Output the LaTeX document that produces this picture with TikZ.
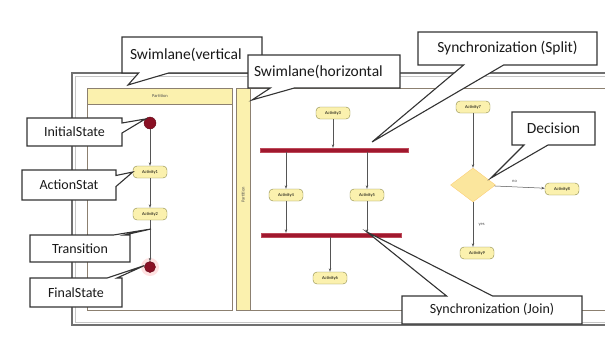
\documentclass[tikz,border=0pt]{standalone}
\usepackage{fontspec}
\setmainfont{Carlito}
\usetikzlibrary{shapes.callouts,shapes.geometric,arrows.meta}
\definecolor{frameC}{HTML}{707070}
\definecolor{laneC}{HTML}{8C8070}
\definecolor{yel}{HTML}{FBF1AE}
\definecolor{actB}{HTML}{8A8848}
\definecolor{barC}{HTML}{A0182E}
\definecolor{stateC}{HTML}{8A1024}
\definecolor{lineC}{HTML}{555555}
\begin{document}
\begin{tikzpicture}[x=1pt,y=-1pt,
  frameline/.style={draw=frameC,line width=1.6pt},
  frameinner/.style={draw=gray!45,line width=0.6pt},
  laneline/.style={draw=laneC,line width=0.8pt},
  lanehead/.style={draw=laneC,line width=0.8pt,fill=yel},
  act/.style={draw=actB,fill=yel,rounded corners=4pt,minimum width=34pt,minimum height=12pt,inner sep=1pt,font=\fontsize{4.5}{5}\selectfont},
  bar/.style={fill=barC,draw=barC!70!pink,line width=0.4pt,minimum height=4pt,inner sep=0pt},
  arr/.style={draw=lineC,line width=0.5pt,-{Stealth[length=3.5pt,width=2.5pt]}},
  tiny/.style={font=\fontsize{4.5}{5}\selectfont,text=gray!60!black},
  callbox/.style={rectangle callout,draw=gray!40!black,line width=1.1pt,fill=white,font=\fontsize{14}{16}\selectfont,text=gray!20!black,inner sep=0pt},
  bigtext/.style={font=\fontsize{15.5}{17}\selectfont},
]
\useasboundingbox (0,0) rectangle (605,338);
% outer frame
\draw[frameline] (610,73) -- (72,73) -- (72,325) -- (610,325);
\draw[frameinner] (610,76) -- (75,76) -- (75,322) -- (610,322);
% vertical swimlane
\draw[laneline] (87,88) rectangle (232,310);
\node[lanehead,minimum width=145pt,minimum height=16pt,inner sep=0pt,anchor=north west] (vhead) at (87,88) {};
\node[tiny] (vlab) at (vhead) {Partition};
% horizontal swimlane
\draw[laneline] (612,88) -- (236,88) -- (236,310) -- (612,310);
\node[lanehead,minimum width=14pt,minimum height=222pt,inner sep=0pt,anchor=north west] (hhead) at (236,88) {};
\node[tiny,rotate=90] (hlab) at (243,195) {Partition};
% left activity column
\node[circle,fill=stateC,draw=stateC!70!black,minimum size=12pt,inner sep=0pt] (ini) at (150,123) {};
\node[act] (a1) at (150,172) {Activity1};
\node[act] (a2) at (150,214) {Activity2};
\fill[pink!60,opacity=0.8] (150,267) circle (9pt);
\node[circle,fill=stateC,draw=stateC!70!black,minimum size=11pt,inner sep=0pt] (fin) at (150,267) {};
\draw[arr] (ini) -- (a1);
\draw[arr] (a1) -- (a2);
\draw[arr] (a2) -- (fin);
% fork / join
\node[act] (a3) at (333,113) {Activity3};
\node[bar,minimum width=148pt] (split) at (334,150) {};
\node[act] (a4) at (286,195) {Activity4};
\node[act] (a5) at (367,195) {Activity5};
\node[bar,minimum width=140pt] (join) at (331,235) {};
\node[act] (a6) at (330,278) {Activity6};
\draw[arr] (a3) -- (a3 |- split.north);
\draw[arr] (a4 |- split.south) -- (a4);
\draw[arr] (a5 |- split.south) -- (a5);
\draw[arr] (a4) -- (a4 |- join.north);
\draw[arr] (a5) -- (a5 |- join.north);
\draw[arr] (a6 |- join.south) -- (a6);
% decision
\node[act] (a7) at (473,107) {Activity7};
\node[diamond,draw=yel!70!orange,fill=yel!90!orange,minimum width=45pt,minimum height=34pt,inner sep=0pt] (dec) at (473,185) {};
\node[act] (a8) at (562,189) {Activity8};
\node[act] (a9) at (477,253) {Activity9};
\draw[arr] (a7) -- (dec);
\draw[arr] (dec) -- node[tiny,above=1pt,pos=0.4] {no} (a8);
\draw[arr] (dec.south) -- node[tiny,right=2pt,pos=0.5] {yes} (dec.south |- a9.north);
% callout targets
\coordinate (tv) at (128,85);
\coordinate (th) at (252,100);
\coordinate (tsp) at (372,142);
\coordinate (tdec) at (491,178);
\coordinate (tjo) at (367,232);
\coordinate (ttr) at (151,229);
% callouts
\node[callbox,bigtext,minimum width=140pt,minimum height=36pt,text width=124pt,align=left,inner xsep=8pt,callout pointer width=30pt,callout absolute pointer={(tv)}] (cv) at (192,55) {Swimlane(vertical};
\node[callbox,bigtext,minimum width=152pt,minimum height=33pt,text width=140pt,align=left,inner xsep=6pt,callout pointer width=24pt,callout absolute pointer={(th)}] (ch) at (324,71.5) {Swimlane(horizontal};
\node[callbox,bigtext,minimum width=179pt,minimum height=33pt,callout pointer width=40pt,callout absolute pointer={(tsp)}] (csp) at (507.5,48.5) {Synchronization (Split)};
\node[callbox,bigtext,minimum width=83pt,minimum height=33pt,callout pointer width=24pt,callout absolute pointer={(tdec)}] (cdec) at (553.5,128.5) {Decision};
\node[callbox,minimum width=180pt,minimum height=28pt,callout pointer width=46pt,callout absolute pointer={(tjo)}] (cjo) at (492,310) {Synchronization (Join)};
\node[callbox,minimum width=95pt,minimum height=28pt,callout pointer width=10pt,callout absolute pointer={(ini.140)}] (cini) at (74.5,132) {InitialState};
\node[callbox,minimum width=94pt,minimum height=30pt,callout pointer width=11pt,callout absolute pointer={(a1.west)}] (cact) at (69,185) {ActionStat};
\node[callbox,minimum width=100pt,minimum height=27pt,callout pointer width=11pt,callout absolute pointer={(ttr)}] (ctr) at (80,248.5) {Transition};
\node[callbox,minimum width=92pt,minimum height=29pt,callout pointer width=10pt,callout absolute pointer={(fin.165)}] (cfin) at (76,292.5) {FinalState};
\end{tikzpicture}
\end{document}
